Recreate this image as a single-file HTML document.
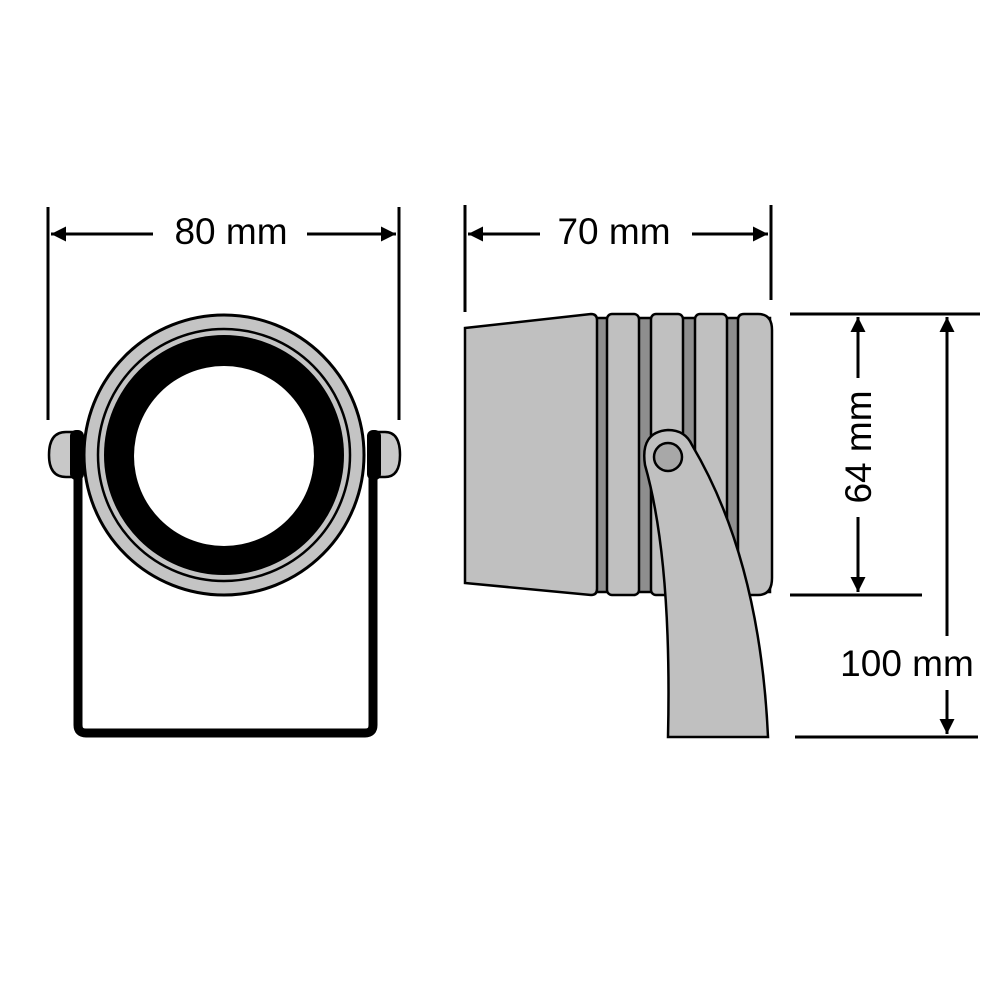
<!DOCTYPE html>
<html><head><meta charset="utf-8"><style>html,body{margin:0;padding:0;background:#fff}</style></head>
<body>
<svg width="1000" height="1000" viewBox="0 0 1000 1000" xmlns="http://www.w3.org/2000/svg">
<defs>
<marker id="a" viewBox="0 0 10 10" refX="10" refY="5" markerWidth="5" markerHeight="5" orient="auto-start-reverse"><path d="M0,0 L10,5 L0,10 z" fill="#000"/></marker>
</defs>
<g stroke="#000" stroke-width="3" fill="none">
<!-- 80 mm -->
<line x1="48" y1="207" x2="48" y2="420"/>
<line x1="399" y1="207" x2="399" y2="420"/>
<line x1="153" y1="234" x2="51" y2="234" marker-end="url(#a)"/>
<line x1="307" y1="234" x2="396" y2="234" marker-end="url(#a)"/>
<!-- 70 mm -->
<line x1="465" y1="205" x2="465" y2="312"/>
<line x1="771" y1="205" x2="771" y2="300"/>
<line x1="540" y1="234" x2="468" y2="234" marker-end="url(#a)"/>
<line x1="692" y1="234" x2="768" y2="234" marker-end="url(#a)"/>
<!-- vertical dims -->
<line x1="790" y1="314" x2="980" y2="314"/>
<line x1="790" y1="595" x2="922" y2="595"/>
<line x1="795" y1="737" x2="978" y2="737"/>
<line x1="858" y1="378" x2="858" y2="317" marker-end="url(#a)"/>
<line x1="858" y1="517" x2="858" y2="592" marker-end="url(#a)"/>
<line x1="947" y1="636" x2="947" y2="317" marker-end="url(#a)"/>
<line x1="947" y1="690" x2="947" y2="734" marker-end="url(#a)"/>
</g>
<g font-family="Liberation Sans, Arial, sans-serif" font-size="37" fill="#000" text-anchor="middle">
<text x="231" y="244">80 mm</text>
<text x="614" y="244">70 mm</text>
<text x="907" y="676">100 mm</text>
<text transform="translate(871,447) rotate(-90)">64 mm</text>
</g>
<!-- front view -->
<path d="M78,478 L78,725 Q78,733 86,733 L365,733 Q373,733 373,725 L373,478" fill="none" stroke="#000" stroke-width="9" stroke-linejoin="round"/>
<path d="M78,432 L66,432 Q49,432 49,455 Q49,477 66,477 L78,477 Z" fill="#c8c8c8" stroke="#000" stroke-width="2.5"/>
<path d="M373,432 L385,432 Q400,432 400,455 Q400,477 385,477 L373,477 Z" fill="#c8c8c8" stroke="#000" stroke-width="2.5"/>
<rect x="70" y="430" width="14" height="50" rx="6" fill="#000"/>
<rect x="367" y="430" width="14" height="50" rx="6" fill="#000"/>
<circle cx="224" cy="455" r="140" fill="#c4c4c4" stroke="#000" stroke-width="3"/>
<circle cx="224" cy="455" r="126" fill="none" stroke="#000" stroke-width="2.5"/>
<circle cx="224" cy="455" r="120" fill="#000"/>
<circle cx="224" cy="456" r="90" fill="#fff"/>
<!-- side view -->
<rect x="592" y="318" width="178" height="274" fill="#8e8e8e" stroke="#000" stroke-width="2.5"/>
<path d="M465,328 L591,314 Q597,314 597,320 L597,589 Q597,595 591,595 L465,583 Z" fill="#c0c0c0" stroke="#000" stroke-width="2.5"/>
<g fill="#c0c0c0" stroke="#000" stroke-width="2.5">
<rect x="607" y="314" width="32" height="281" rx="5"/>
<rect x="651" y="314" width="32" height="281" rx="5"/>
<rect x="695" y="314" width="32" height="281" rx="5"/>
<path d="M738,320 Q738,314 744,314 L758,314 Q772,314 772,330 L772,578 Q772,595 758,595 L744,595 Q738,595 738,589 Z"/>
<path d="M645,465 Q640,432 668,430 Q685,430 692,445 Q760,560 768,737 L668,737 Q672,560 645,465 Z"/>
</g>
<circle cx="668" cy="457" r="14" fill="#a8a8a8" stroke="#000" stroke-width="2.5"/>
</svg>
</body></html>
